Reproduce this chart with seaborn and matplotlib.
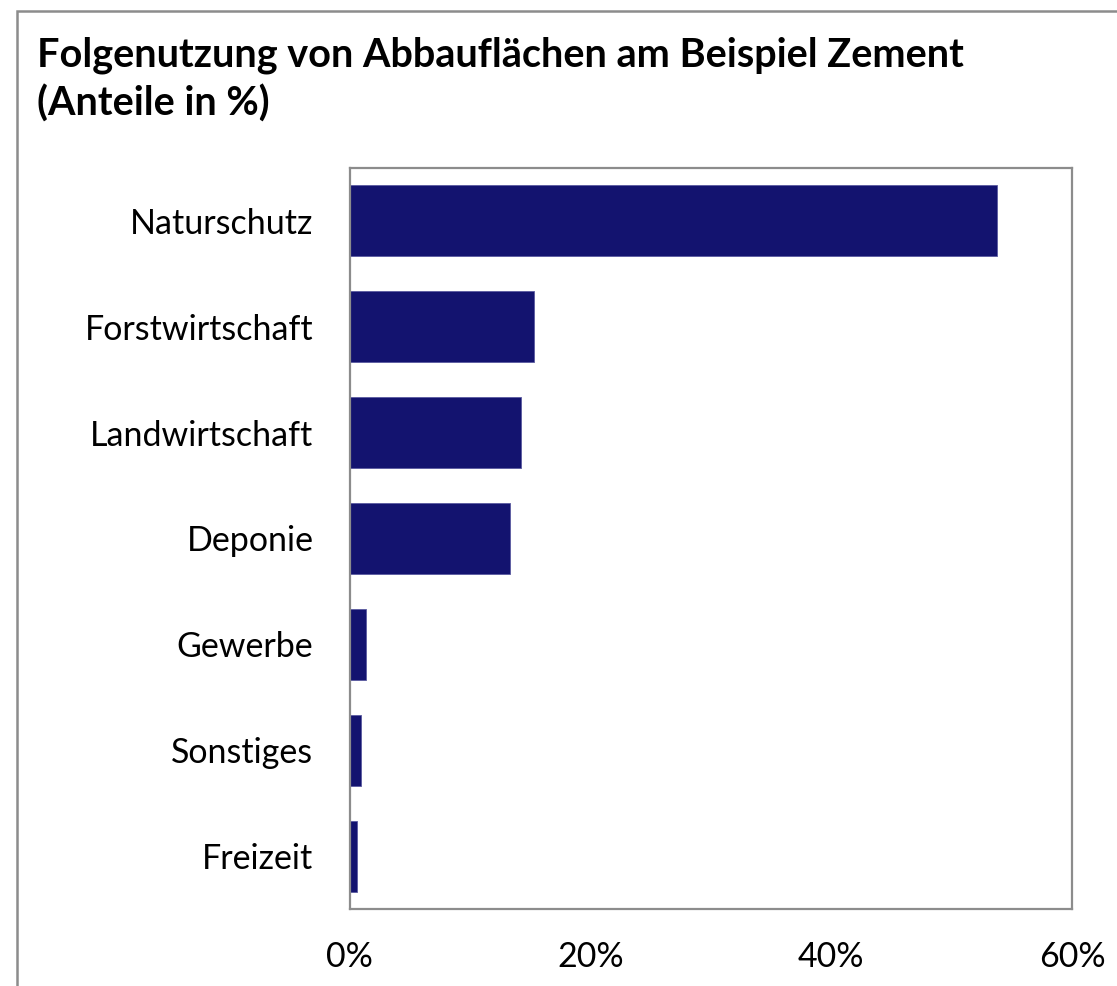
import matplotlib
matplotlib.use("Agg")
import matplotlib.pyplot as plt
import seaborn as sns
import pandas as pd
from matplotlib.patches import Rectangle

categories = ["Naturschutz", "Forstwirtschaft", "Landwirtschaft", "Deponie",
              "Gewerbe", "Sonstiges", "Freizeit"]
values = [53.8, 15.35, 14.27, 13.36, 1.35, 0.93, 0.65]
tick_values = [0, 20, 40, 60]
tick_labels = ["0%", "20%", "40%", "60%"]
title = "Folgenutzung von Abbauflächen am Beispiel Zement\n(Anteile in %)"

sns.set_theme(style="white")
plt.rcParams['font.family'] = ['Lato', 'DejaVu Sans']

W, H = 1117, 986
fig = plt.figure(figsize=(W / 100, H / 100), dpi=100)
fig.patch.set_facecolor("white")

# outer border
fig.add_artist(Rectangle((17 / W, -0.1), 1.2, 1 - 11 / H + 0.1, transform=fig.transFigure,
                         fill=False, edgecolor="#8c8c8c", linewidth=1.8))

ax = fig.add_axes([349.5 / W, 1 - 909 / H, (1072 - 349.5) / W, (909 - 168) / H])
df = pd.DataFrame({"cat": categories, "val": values})
sns.barplot(data=df, x="val", y="cat", orient="h", color="#13136f", width=0.67,
            saturation=1, edgecolor="#5a5aa0", linewidth=0.6, ax=ax)

ax.set_xlim(0, 60)
ax.set_xticks(tick_values)
ax.set_xticklabels(tick_labels)
ax.set_xlabel("")
ax.set_ylabel("")
ax.tick_params(axis="x", direction="in", length=7.5, width=1.5, color="#868686",
               pad=23, labelsize=24.5, labelcolor="black")
ax.tick_params(axis="y", length=0, pad=26, labelsize=24.5, labelcolor="black")
for s in ax.spines.values():
    s.set_visible(True)
    s.set_color("#8c8c8c")
    s.set_linewidth(1.6)

fig.text(37 / W, 1 - 37 / H, title, ha="left", va="top", fontsize=28.5,
         fontweight="bold", linespacing=1.32, color="black")

fig.savefig("out.png", dpi=100, facecolor="white")
